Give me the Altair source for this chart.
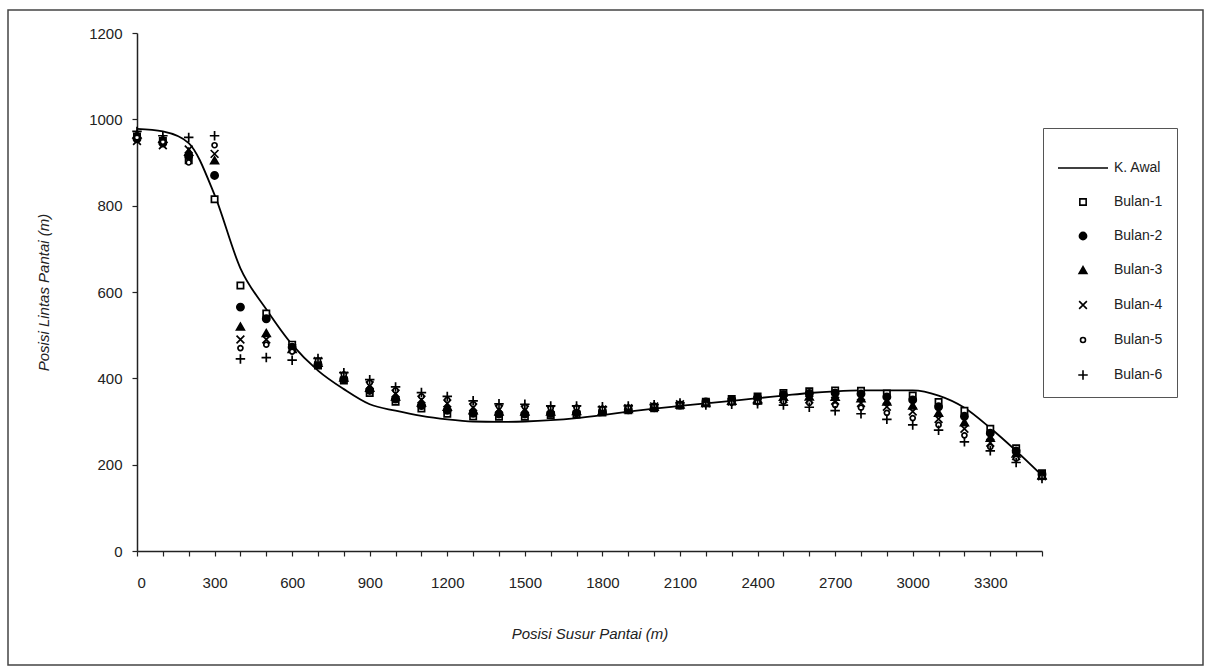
import altair as alt
import pandas as pd

# --- data ---
x_pos = [0, 100, 200, 300, 400, 500, 600, 700, 800, 900, 1000, 1100, 1200,
         1300, 1400, 1500, 1600, 1700, 1800, 1900, 2000, 2100, 2200, 2300,
         2400, 2500, 2600, 2700, 2800, 2900, 3000, 3100, 3200, 3300, 3400, 3500]

k_awal = [978, 972, 945, 825, 655, 560, 478, 418, 375, 340, 325, 313, 305,
          300, 299, 300, 303, 308, 315, 323, 330, 336, 342, 348, 354, 360,
          366, 370, 372, 372, 372, 360, 332, 285, 232, 175]

bulan_1 = [960, 950, 905, 815, 615, 550, 478, 430, 395, 366, 346, 330, 318,
           312, 311, 311, 315, 316, 321, 326, 331, 337, 346, 352, 358, 366,
           370, 372, 371, 365, 360, 345, 325, 283, 238, 180]
bulan_2 = [955, 945, 915, 870, 565, 538, 472, 432, 398, 372, 352, 337, 326,
           319, 317, 317, 319, 320, 323, 327, 332, 338, 345, 350, 355, 362,
           365, 366, 364, 357, 350, 334, 312, 273, 232, 177]
bulan_3 = [965, 955, 925, 905, 520, 505, 468, 436, 402, 378, 358, 344, 334,
           326, 323, 323, 323, 324, 325, 329, 334, 339, 343, 348, 352, 357,
           358, 357, 354, 346, 337, 320, 298, 262, 226, 175]
bulan_4 = [950, 940, 930, 920, 490, 490, 470, 440, 406, 384, 365, 351, 342,
           333, 329, 328, 327, 328, 328, 331, 335, 340, 342, 346, 349, 352,
           351, 348, 343, 334, 323, 306, 283, 251, 220, 173]
bulan_5 = [958, 948, 900, 940, 470, 478, 462, 442, 409, 390, 372, 358, 350,
           340, 335, 334, 331, 332, 330, 333, 337, 341, 340, 343, 345, 346,
           343, 338, 332, 320, 308, 292, 268, 241, 214, 171]
bulan_6 = [972, 962, 958, 962, 445, 448, 442, 446, 413, 397, 380, 367, 358,
           348, 341, 340, 336, 336, 334, 336, 339, 343, 338, 340, 341, 338,
           333, 325, 318, 305, 292, 280, 253, 232, 205, 168]

series_names = ["K. Awal", "Bulan-1", "Bulan-2", "Bulan-3", "Bulan-4", "Bulan-5", "Bulan-6"]
x_tick_values = list(range(0, 3600, 100))
y_tick_values = [0, 200, 400, 600, 800, 1000, 1200]

# --- tables ---
line_df = pd.DataFrame({"x": x_pos, "y": k_awal})
rows = []
for name, vals in zip(series_names[1:], [bulan_1, bulan_2, bulan_3, bulan_4, bulan_5, bulan_6]):
    for xv, yv in zip(x_pos, vals):
        rows.append({"x": xv, "y": yv, "series": name})
pts_df = pd.DataFrame(rows)

FONT = "Liberation Sans"
NBSP = "\u00a0"

x_axis = alt.Axis(values=x_tick_values, labelOverlap=False,
                  labelExpr="datum.value % 300 == 0 ? datum.label : ''",
                  title="Posisi Susur Pantai (m)", format="d")
y_axis = alt.Axis(values=y_tick_values, title="Posisi Lintas Pantai (m)", format="d")
x_scale = alt.Scale(domain=[0, 3500], nice=False)
y_scale = alt.Scale(domain=[0, 1200], nice=False)

line = alt.Chart(line_df).mark_line(color="black", strokeWidth=1.8,
                                     interpolate="monotone").encode(
    x=alt.X("x:Q", scale=x_scale, axis=x_axis),
    y=alt.Y("y:Q", scale=y_scale, axis=y_axis))

x_path = "M-1,-1L1,1M-1,1L1,-1"
plus_path = "M-1,0L1,0M0,-1L0,1"

points = alt.Chart(pts_df).mark_point(stroke="black", strokeWidth=1.7, opacity=1).encode(
    x=alt.X("x:Q", scale=x_scale, axis=x_axis),
    y=alt.Y("y:Q", scale=y_scale, axis=y_axis),
    shape=alt.Shape("series:N",
                    scale=alt.Scale(domain=series_names,
                                    range=["stroke", "square", "circle", "triangle-up",
                                           x_path, "circle", plus_path]),
                    legend=alt.Legend(title=None, orient="none", legendX=906, legendY=95,
                                      strokeColor="#555", fillColor="white",
                                      padding=14, rowPadding=20,
                                      labelFont=FONT, labelFontSize=14, labelColor="#222",
                                      symbolStrokeWidth=1.6, symbolStrokeColor="black",
                                      labelOffset=5,
                                      labelExpr="datum.label + '" + NBSP * 4 + "'")),
    fill=alt.Fill("series:N",
                  scale=alt.Scale(domain=series_names,
                                  range=["black", "white", "black", "black",
                                         "transparent", "white", "transparent"]),
                  legend=alt.Legend(title=None, orient="none", legendX=906, legendY=95)),
    size=alt.Size("series:N",
                  scale=alt.Scale(type="ordinal", domain=series_names,
                                  range=[2500, 40, 52, 60, 60, 25, 90]),
                  legend=alt.Legend(title=None, orient="none", legendX=906, legendY=95)),
)

frame = alt.Chart(pd.DataFrame({"a": [0]})).mark_rect(
    fill="transparent", stroke="#444", strokeWidth=1.5
).encode(x=alt.value(-129), x2=alt.value(1066), y=alt.value(-23), y2=alt.value(632))

chart = alt.layer(frame, line, points).properties(
    width=905, height=518,
    autosize=alt.AutoSizeParams(type="none"),
    padding={"left": 137, "top": 33, "right": 170, "bottom": 121},
).configure_view(stroke=None).configure_axis(
    grid=False, domainColor="#222", tickColor="#222", labelColor="#222",
    labelFont=FONT, labelFontSize=15, titleFont=FONT, titleFontSize=15,
    titleFontStyle="italic", titleFontWeight="normal", titleColor="#222",
    domainWidth=1.5, tickWidth=1.2, tickSize=5,
).configure_axisX(labelPadding=19, titlePadding=36, labelOverlap=False).configure_axisY(
    labelPadding=10, titlePadding=37
)

chart.save("out.html", embed_options={"renderer": "svg", "actions": False})
